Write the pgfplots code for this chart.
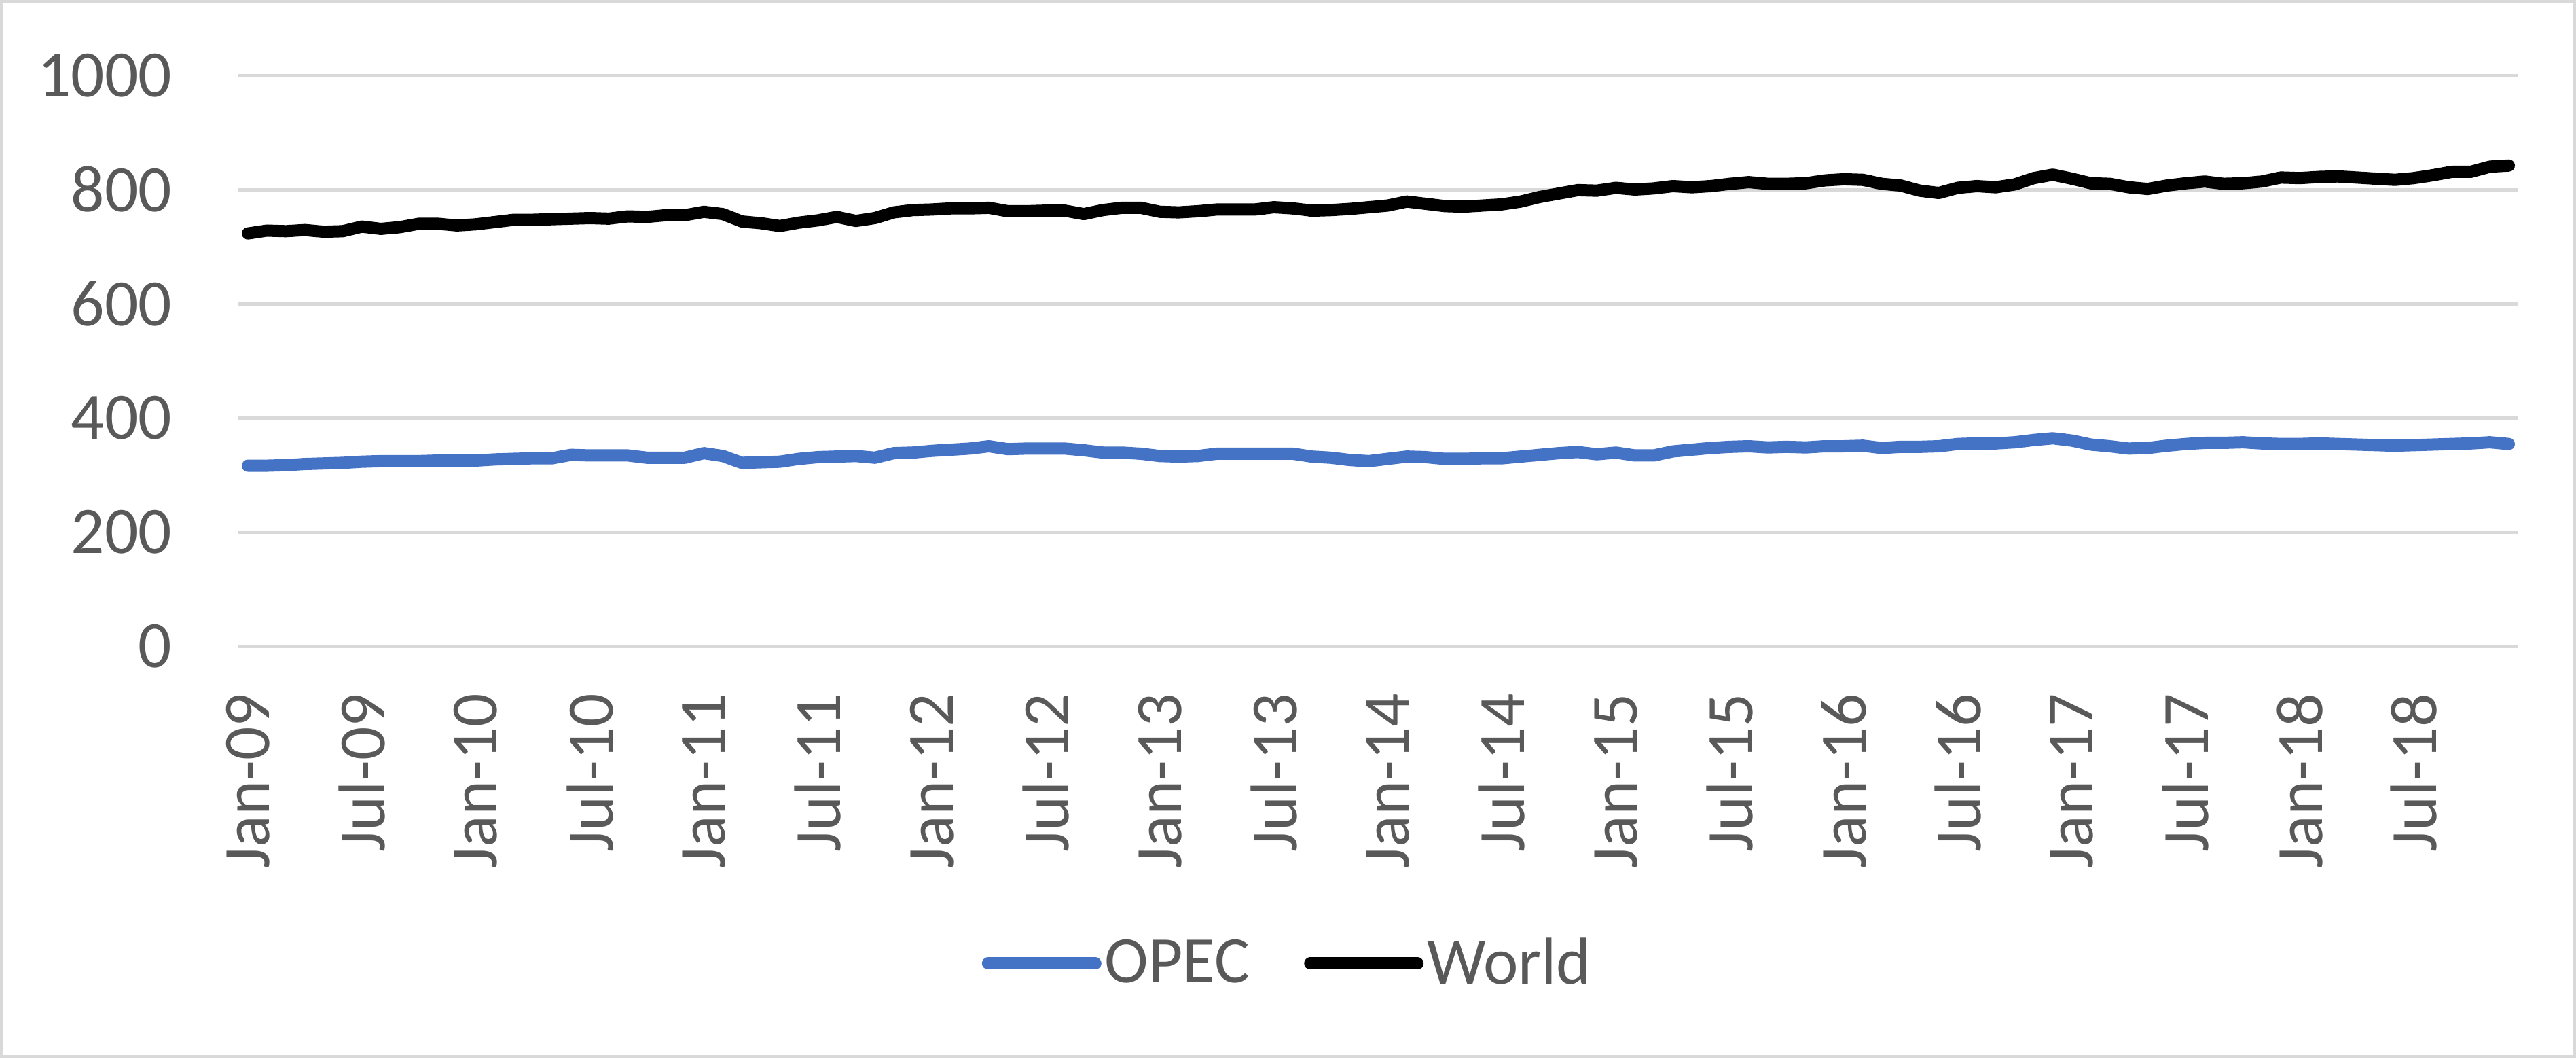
\documentclass[border=0pt]{standalone}
\usepackage{fontspec}
\setmainfont{Carlito}
\usepackage{pgfplots}
\pgfplotsset{compat=1.18}
\definecolor{gridgray}{HTML}{D9D9D9}
\definecolor{txtgray}{HTML}{595959}
\definecolor{opecblue}{HTML}{4472C4}
\begin{document}
\begin{tikzpicture}
\useasboundingbox (0,0) rectangle (758.6pt,311.6pt);
\draw[gridgray, line width=1pt] (0.5pt,0.5pt) rectangle (758.1pt,311.1pt);
\begin{axis}[
  at={(70.2pt,121.4pt)}, anchor=south west,
  scale only axis, width=671.4pt, height=168pt,
  xmin=-0.5, xmax=119.5, ymin=0, ymax=1000,
  ytick={0,200,...,1000},
  xtick={0,6,...,114},
  xticklabels={Jan-09,Jul-09,Jan-10,Jul-10,Jan-11,Jul-11,Jan-12,Jul-12,Jan-13,Jul-13,Jan-14,Jul-14,Jan-15,Jul-15,Jan-16,Jul-16,Jan-17,Jul-17,Jan-18,Jul-18},
  ymajorgrids, grid style={gridgray, line width=1pt},
  axis line style={draw=none}, tick style={draw=none},
  major tick length=0pt,
  /pgf/number format/assume math mode=true,
  /pgf/number format/1000 sep={},
  ticklabel style={font=\fontsize{19.5}{23}\selectfont, text=txtgray},
  yticklabel style={anchor=east, inner sep=0pt},
  yticklabel shift=19.4pt,
  xticklabel style={rotate=90, anchor=east, inner sep=0pt},
  xticklabel shift=13.8pt,
  legend columns=2,
  legend style={at={(0.4605,-0.5565)}, anchor=center, draw=none, fill=none, inner sep=0pt,
    font=\fontsize{19.5}{23}\selectfont, text=txtgray,
    nodes={inner sep=1pt},
    /tikz/every even column/.append style={column sep=15pt}},
  legend image code/.code={\draw[#1, line cap=round] (1.8pt,0pt) -- (33.4pt,0pt);},
]
\addplot[opecblue, line width=3.6pt, line join=round, line cap=round] coordinates {
(0,316)(1,316)(2,317)(3,319)(4,320)(5,321)(6,323)(7,324)(8,324)(9,324)(10,325)(11,325)(12,325)(13,327)(14,328)(15,329)(16,329)(17,335)(18,334)(19,334)(20,334)(21,330)(22,330)(23,330)(24,338)(25,333)(26,321)(27,322)(28,323)(29,328)(30,331)(31,332)(32,333)(33,330)(34,338)(35,339)(36,342)(37,344)(38,346)(39,350)(40,345)(41,346)(42,346)(43,346)(44,343)(45,339)(46,339)(47,337)(48,333)(49,332)(50,333)(51,337)(52,337)(53,337)(54,337)(55,337)(56,332)(57,330)(58,326)(59,324)(60,328)(61,332)(62,331)(63,328)(64,328)(65,329)(66,329)(67,332)(68,335)(69,338)(70,340)(71,336)(72,339)(73,334)(74,334)(75,341)(76,344)(77,347)(78,349)(79,350)(80,348)(81,349)(82,348)(83,350)(84,350)(85,351)(86,347)(87,349)(88,349)(89,350)(90,354)(91,355)(92,355)(93,357)(94,361)(95,364)(96,360)(97,353)(98,350)(99,346)(100,347)(101,351)(102,354)(103,356)(104,356)(105,357)(106,355)(107,354)(108,354)(109,355)(110,354)(111,353)(112,352)(113,351)(114,352)(115,353)(116,354)(117,355)(118,357)(119,354)
};
\addlegendentry{OPEC}
\addplot[black, line width=3.6pt, line join=round, line cap=round] coordinates {
(0,723)(1,728)(2,727)(3,729)(4,726)(5,727)(6,735)(7,731)(8,734)(9,740)(10,740)(11,737)(12,739)(13,743)(14,747)(15,747)(16,748)(17,749)(18,750)(19,749)(20,753)(21,752)(22,755)(23,755)(24,761)(25,757)(26,744)(27,741)(28,736)(29,742)(30,746)(31,752)(32,745)(33,750)(34,760)(35,764)(36,765)(37,767)(38,767)(39,768)(40,762)(41,762)(42,763)(43,763)(44,757)(45,764)(46,768)(47,768)(48,761)(49,760)(50,762)(51,765)(52,765)(53,765)(54,769)(55,767)(56,763)(57,764)(58,766)(59,769)(60,772)(61,779)(62,775)(63,771)(64,770)(65,772)(66,774)(67,779)(68,787)(69,793)(70,799)(71,798)(72,803)(73,800)(74,802)(75,806)(76,804)(77,806)(78,810)(79,813)(80,810)(81,810)(82,811)(83,816)(84,818)(85,817)(86,810)(87,807)(88,798)(89,794)(90,803)(91,806)(92,804)(93,809)(94,820)(95,826)(96,819)(97,811)(98,810)(99,804)(100,801)(101,807)(102,811)(103,814)(104,810)(105,811)(106,814)(107,821)(108,820)(109,822)(110,823)(111,821)(112,819)(113,817)(114,820)(115,825)(116,831)(117,831)(118,840)(119,842)
};
\addlegendentry{World}
\end{axis}
\end{tikzpicture}
\end{document}
